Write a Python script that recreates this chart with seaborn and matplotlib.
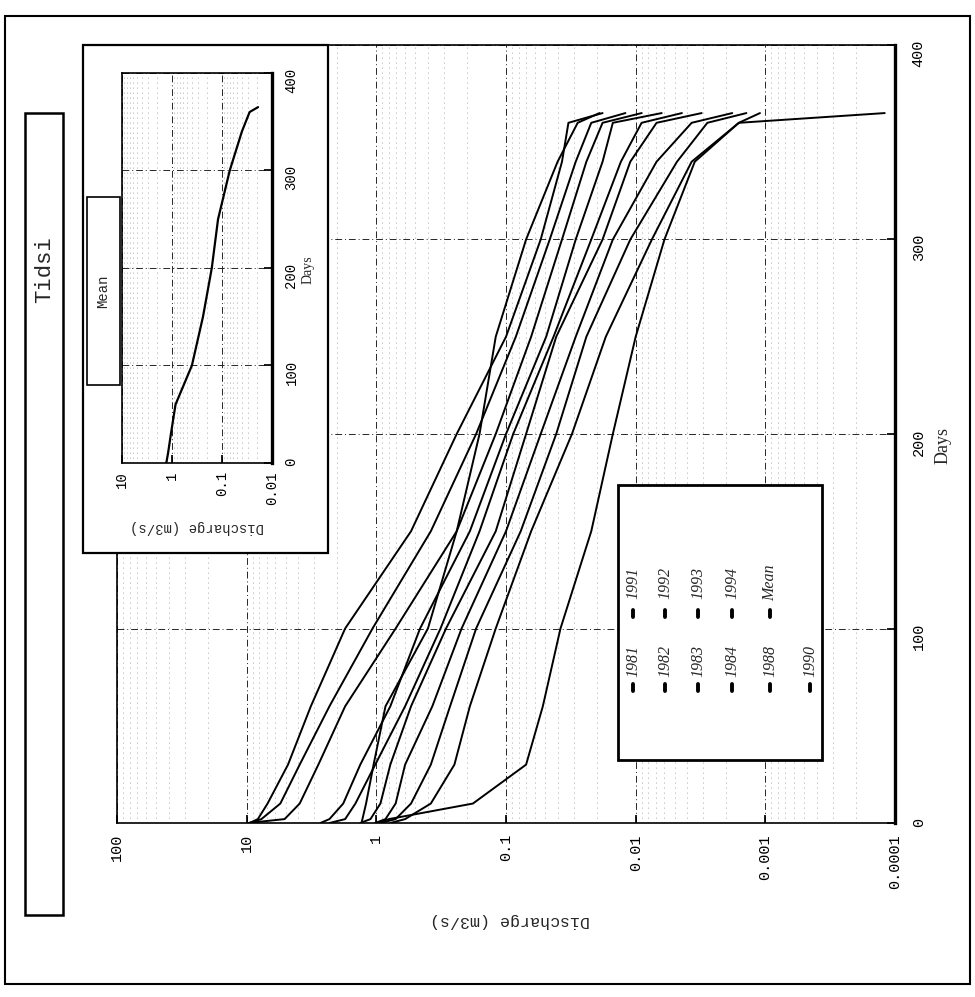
import numpy as np
import pandas as pd
import matplotlib
matplotlib.use('Agg')
import matplotlib.pyplot as plt
from matplotlib.patches import Rectangle
from matplotlib.lines import Line2D
from matplotlib.ticker import LogLocator, NullFormatter
import seaborn as sns

sns.set_theme(style='white')
plt.rcParams['font.family'] = ['Liberation Mono', 'DejaVu Sans']

# ---- data (flow duration curves) ----
days = [0, 2, 10, 30, 60, 100, 150, 200, 250, 300, 340, 360, 365]

q_1981 = [9.5, 8.2, 6.9, 4.8, 3.2, 1.74, 0.54, 0.24, 0.10, 0.054, 0.037, 0.033, 0.018]
q_1982 = [9.5, 7.7, 5.5, 3.9, 2.3, 1.07, 0.38, 0.17, 0.084, 0.046, 0.029, 0.022, 0.012]
q_1983 = [9.8, 5.1, 3.9, 2.8, 1.74, 0.71, 0.24, 0.12, 0.064, 0.037, 0.024, 0.018, 0.009]
q_1984 = [2.7, 2.3, 1.8, 1.33, 0.78, 0.46, 0.19, 0.10, 0.049, 0.029, 0.018, 0.015, 0.0063]
q_1988 = [2.3, 1.74, 1.45, 1.02, 0.60, 0.32, 0.16, 0.088, 0.043, 0.022, 0.013, 0.009, 0.0044]
q_1990 = [1.0, 0.8, 0.18, 0.07, 0.052, 0.038, 0.022, 0.015, 0.010, 0.006, 0.0035, 0.0016, 0.00012]
q_1991 = [1.33, 1.11, 0.93, 0.78, 0.54, 0.29, 0.12, 0.07, 0.041, 0.018, 0.011, 0.0069, 0.0031]
q_1992 = [1.02, 0.85, 0.71, 0.60, 0.37, 0.22, 0.10, 0.054, 0.029, 0.015, 0.0069, 0.0037, 0.0018]
q_1993 = [0.93, 0.71, 0.54, 0.38, 0.27, 0.17, 0.077, 0.041, 0.024, 0.011, 0.0048, 0.0028, 0.0014]
q_1994 = [0.78, 0.60, 0.38, 0.25, 0.19, 0.12, 0.064, 0.031, 0.017, 0.0075, 0.0037, 0.0016, 0.0011]
q_mean = [1.3, 1.28, 1.2, 1.05, 0.85, 0.40, 0.24, 0.16, 0.12, 0.07, 0.04, 0.028, 0.019]

labels = ['1981', '1982', '1983', '1984', '1988', '1990',
          '1991', '1992', '1993', '1994', 'Mean']
series = [q_1981, q_1982, q_1983, q_1984, q_1988, q_1990,
          q_1991, q_1992, q_1993, q_1994, q_mean]

q_ticks = [100, 10, 1, 0.1, 0.01, 0.001, 0.0001]
q_tick_labels = ['100', '10', '1', '0.1', '0.01', '0.001', '0.0001']
inset_q_ticks = [10, 1, 0.1, 0.01]
inset_q_labels = ['10', '1', '0.1', '0.01']
day_ticks = [0, 100, 200, 300, 400]

df = pd.concat([pd.DataFrame({'Days': days, 'Discharge': q, 'Year': name})
                for name, q in zip(labels, series)], ignore_index=True)
df_mean = df[df['Year'] == 'Mean']

W, H = 975, 997
fig = plt.figure(figsize=(W / 100, H / 100), dpi=100)
fig.patch.set_facecolor('white')


def fx(x):
    return x / W


def fy(y):
    return 1 - y / H


def style_axes(a, xt, xtl, fs, pad_x, pad_y):
    a.set_xscale('log')
    a.set_xlim(max(xt), min(xt))
    a.set_ylim(0, 400)
    a.set_xticks(xt)
    a.set_xticklabels(xtl)
    a.xaxis.set_minor_locator(LogLocator(base=10, subs=np.arange(2, 10)))
    a.xaxis.set_minor_formatter(NullFormatter())
    a.set_yticks(day_ticks)
    a.yaxis.tick_right()
    a.tick_params(axis='x', which='major', direction='in', length=6, labelrotation=90,
                  pad=pad_x, labelsize=fs, colors='black', bottom=True)
    a.tick_params(axis='x', which='minor', length=0)
    a.tick_params(axis='y', direction='in', length=6, labelrotation=90, pad=pad_y,
                  labelsize=fs, colors='black', right=True, left=False)
    a.grid(True, which='major', axis='both', color='0.15', linestyle=(0, (7, 3, 1, 3)), lw=0.7)
    a.grid(True, which='minor', axis='x', color='0.55', linestyle=(0, (1, 5)), lw=0.6)
    a.set_xlabel('')
    a.set_ylabel('')
    for s in a.spines.values():
        s.set_color('black')
        s.set_linewidth(1.2)
    a.spines['right'].set_linewidth(2.4)


# ---- main chart (rotated layout: discharge across, days upward) ----
ax = fig.add_axes([fx(117), fy(823), fx(895) - fx(117), (823 - 45) / H])
ax.set_zorder(0)
ax.set_xscale('log')
sns.lineplot(data=df, x='Discharge', y='Days', hue='Year', palette=['black'] * len(labels),
             estimator=None, sort=False, legend=False, lw=1.4, ax=ax)
style_axes(ax, q_ticks, q_tick_labels, 11, 8, 12)

fig.text(fx(510), fy(920), 'Discharge (m3/s)', rotation=180, ha='center', va='center',
         fontsize=12)
fig.text(fx(943), fy(445), 'Days', rotation=90, ha='center', va='center',
         fontsize=13, family='Liberation Serif')

# legend drawn by hand, rotated like the scan
fig.patches.append(Rectangle((fx(618), fy(760)), fx(822) - fx(618), (760 - 485) / H,
                             transform=fig.transFigure, facecolor='white',
                             edgecolor='black', lw=2, zorder=1))
col_x = [633, 665, 698, 732, 770, 810]
for i, cx in enumerate(col_x):
    fig.lines.append(Line2D([fx(cx), fx(cx)], [fy(691), fy(684)], transform=fig.transFigure,
                            color='black', lw=2.8, zorder=2))
    fig.text(fx(cx), fy(661), labels[i], rotation=90, ha='center', va='center',
             fontsize=11.5, style='italic', family='Liberation Serif')
    if i + 6 < len(labels):
        fig.lines.append(Line2D([fx(cx), fx(cx)], [fy(617), fy(610)],
                                transform=fig.transFigure, color='black', lw=2.8, zorder=2))
        fig.text(fx(cx), fy(583), labels[i + 6], rotation=90, ha='center', va='center',
                 fontsize=11.5, style='italic', family='Liberation Serif')

# ---- inset: mean curve ----
fig.patches.append(Rectangle((fx(83), fy(553)), fx(328) - fx(83), (553 - 45) / H,
                             transform=fig.transFigure, facecolor='white',
                             edgecolor='black', lw=1.6, zorder=1))
axi = fig.add_axes([fx(122), fy(463), fx(272) - fx(122), (463 - 73) / H])
axi.set_zorder(2)
axi.set_xscale('log')
sns.lineplot(data=df_mean, x='Discharge', y='Days', color='black', estimator=None,
             sort=False, lw=1.6, ax=axi)
style_axes(axi, inset_q_ticks, inset_q_labels, 10, 6, 9)

fig.text(fx(308), fy(270), 'Days', rotation=90, ha='center', va='center',
         fontsize=10, family='Liberation Serif', zorder=5)
fig.text(fx(197), fy(527), 'Discharge (m3/s)', rotation=180, ha='center', va='center',
         fontsize=10, zorder=5)
fig.patches.append(Rectangle((fx(87), fy(385)), fx(120) - fx(87), (385 - 197) / H,
                             transform=fig.transFigure, facecolor='white',
                             edgecolor='black', lw=1.2, zorder=3))
fig.text(fx(103), fy(291), 'Mean', rotation=90, ha='center', va='center',
         fontsize=10, zorder=5)

# ---- title box and outer frame ----
fig.patches.append(Rectangle((fx(25), fy(915)), fx(63) - fx(25), (915 - 113) / H,
                             transform=fig.transFigure, facecolor='white',
                             edgecolor='black', lw=1.8, zorder=1))
fig.text(fx(45), fy(270), 'Tidsi', rotation=90, ha='center', va='center', fontsize=16)
fig.patches.append(Rectangle((fx(5), fy(984)), fx(970) - fx(5), (984 - 16) / H,
                             transform=fig.transFigure, facecolor='none',
                             edgecolor='black', lw=1.5, zorder=1))

fig.savefig('out.png', dpi=100, facecolor='white')
